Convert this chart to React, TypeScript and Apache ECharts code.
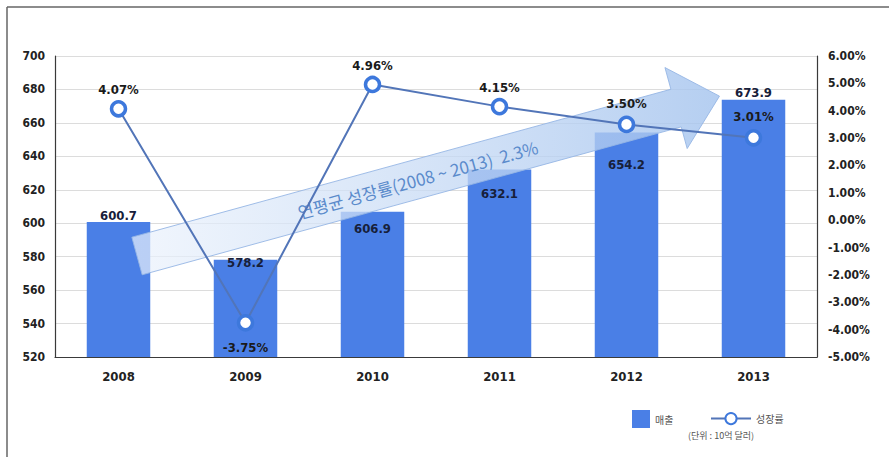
import React, { useEffect, useRef } from "react";
import * as echarts from "echarts";

const categories = ["2008", "2009", "2010", "2011", "2012", "2013"];
const sales = [600.7, 578.2, 606.9, 632.1, 654.2, 673.9];
const growth = [4.07, -3.75, 4.96, 4.15, 3.5, 3.01];
const leftTicks = { min: 520, max: 700, interval: 20 };
const rightTicks = { min: -5, max: 6, interval: 1 };
const arrowText = "연평균 성장률(2008 ~ 2013)  2.3%";
const unitText = "(단위 : 10억 달러)";

// label layout (not data)
const barLabelLayout = [
  { position: "top", distance: 0 },
  { position: "insideTop", distance: -4 },
  { position: "insideTop", distance: 10 },
  { position: "insideTop", distance: 17 },
  { position: "insideTop", distance: 25 },
  { position: "top", distance: 1 },
];
const lineLabelLayout = [
  { position: "top", distance: 4 },
  { position: "bottom", distance: 9 },
  { position: "top", distance: 4 },
  { position: "top", distance: 4 },
  { position: "top", distance: 6 },
  { position: "top", distance: 6 },
];

const NUM_FONT = "'DejaVu Sans Condensed', 'DejaVu Sans', sans-serif";
const KR_FONT = "'Noto Sans CJK KR', sans-serif";

function arrowPoints() {
  const T = [137, 256];
  const ang = Math.atan2(160, 583);
  const u = [Math.cos(ang), -Math.sin(ang)];
  const n = [Math.sin(ang), Math.cos(ang)];
  const L = 604, headStart = 559, hw = 19.5, hh = 42;
  const p = (a: number, b: number) => [T[0] + a * u[0] + b * n[0], T[1] + a * u[1] + b * n[1]];
  return {
    pts: [p(0, -hw), p(headStart, -hw), p(headStart, -hh), p(L, 0), p(headStart, hh), p(headStart, hw), p(0, hw)],
    center: p(291, 0),
    ang,
  };
}

export default function App() {
  const ref = useRef<HTMLDivElement>(null);
  useEffect(() => {
    if (!ref.current) return;
    const chart = echarts.init(ref.current, undefined, { renderer: "svg" });
    const arrow = arrowPoints();
    chart.setOption({
      animation: false,
      backgroundColor: "#ffffff",
      grid: { left: 55, right: 72, top: 56, bottom: 100, containLabel: false },
      legend: [
        {
          data: [{ name: "매출", icon: "rect" }],
          left: 627,
          top: 405,
          itemWidth: 18,
          itemHeight: 18,
          textStyle: { fontFamily: KR_FONT, fontSize: 10, color: "#555" },
        },
        {
          data: ["성장률"],
          left: 705,
          top: 407,
          itemWidth: 40,
          itemHeight: 14,
          textStyle: { fontFamily: KR_FONT, fontSize: 10, color: "#555" },
        },
      ],
      xAxis: {
        type: "category",
        data: categories,
        axisLine: { onZero: false, lineStyle: { color: "#3a3a3a", width: 1.2 } },
        axisTick: { show: false },
        axisLabel: { margin: 13, fontFamily: NUM_FONT, fontWeight: "bold", fontSize: 13, color: "#222" },
      },
      yAxis: [
        {
          type: "value",
          min: leftTicks.min,
          max: leftTicks.max,
          interval: leftTicks.interval,
          axisLine: { show: true, lineStyle: { color: "#3a3a3a", width: 1.2 } },
          axisTick: { show: false },
          splitLine: { lineStyle: { color: "#dcdcdc" } },
          axisLabel: { margin: 10, fontFamily: NUM_FONT, fontWeight: "bold", fontSize: 12, color: "#222" },
        },
        {
          type: "value",
          min: rightTicks.min,
          max: rightTicks.max,
          interval: rightTicks.interval,
          position: "right",
          axisLine: { show: true, onZero: false, lineStyle: { color: "#3a3a3a", width: 1.2 } },
          axisTick: { show: false },
          splitLine: { show: false },
          axisLabel: {
            margin: 11,
            fontFamily: NUM_FONT,
            fontWeight: "bold",
            fontSize: 12,
            color: "#222",
            formatter: (v: number) => v.toFixed(2) + "%",
          },
        },
      ],
      series: [
        {
          name: "매출",
          type: "bar",
          barWidth: "50%",
          z: 1,
          itemStyle: { color: "#4a7fe6" },
          data: sales.map((v, i) => ({
            value: v,
            label: {
              show: true,
              position: barLabelLayout[i].position,
              distance: barLabelLayout[i].distance,
              formatter: (p: any) => p.value.toFixed(1),
              fontFamily: NUM_FONT,
              fontWeight: "bold",
              fontSize: 13,
              color: "#17203a",
            },
          })),
        },
        {
          name: "성장률",
          type: "line",
          yAxisIndex: 1,
          z: 5,
          symbol: "circle",
          symbolSize: 14,
          lineStyle: { color: "#5275b8", width: 2 },
          itemStyle: { color: "#ffffff", borderColor: "#3d78dc", borderWidth: 3.5 },
          data: growth.map((v, i) => ({
            value: v,
            label: {
              show: true,
              position: lineLabelLayout[i].position,
              distance: lineLabelLayout[i].distance,
              formatter: (p: any) => p.value.toFixed(2) + "%",
              fontFamily: NUM_FONT,
              fontWeight: "bold",
              fontSize: 13,
              color: "#1a1a1a",
            },
          })),
        },
      ],
      graphic: [
        {
          type: "line",
          shape: { x1: 7, y1: 7, x2: 889, y2: 7 },
          style: { stroke: "#666", lineWidth: 1.5 },
        },
        {
          type: "line",
          shape: { x1: 7, y1: 7, x2: 7, y2: 457 },
          style: { stroke: "#666", lineWidth: 1.5 },
        },
        {
          type: "polygon",
          z: 3,
          shape: { points: arrow.pts },
          style: {
            fill: new echarts.graphic.LinearGradient(0, 0, 1, 0, [
              { offset: 0, color: "rgba(235,242,252,0.7)" },
              { offset: 1, color: "rgba(165,196,238,0.82)" },
            ]),
            stroke: "rgba(150,182,228,0.9)",
            lineWidth: 1,
          },
        },
        {
          type: "text",
          z: 4,
          x: arrow.center[0],
          y: arrow.center[1],
          rotation: arrow.ang,
          style: {
            text: arrowText,
            fill: "#5a8acb",
            fontFamily: KR_FONT,
            fontSize: 17,
            fontWeight: "normal",
            textAlign: "center",
            textVerticalAlign: "middle",
          },
        },
        {
          type: "text",
          left: 688,
          top: 431,
          style: { text: unitText, fill: "#555", fontFamily: KR_FONT, fontSize: 9 },
        },
      ],
    });
    return () => chart.dispose();
  }, []);
  return <div ref={ref} style={{ position: "fixed", left: 0, top: 0, width: 889, height: 457 }} />;
}
